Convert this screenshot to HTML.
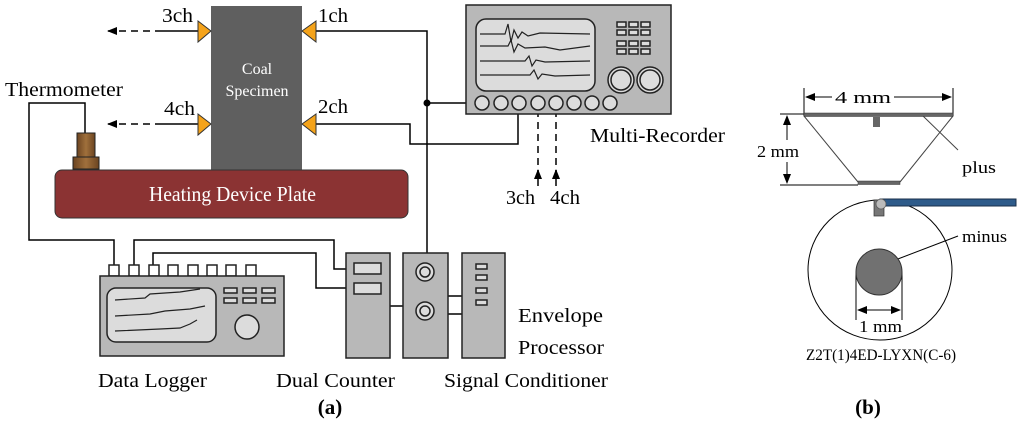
<!DOCTYPE html>
<html><head><meta charset="utf-8"><style>
html,body{margin:0;padding:0;background:#fff;}
svg{display:block;}
text{font-family:"Liberation Serif","Times New Roman",serif;}
</style></head><body>
<svg width="1024" height="423" viewBox="0 0 1024 423" xmlns="http://www.w3.org/2000/svg" font-family="Liberation Serif, serif">
<defs>
<marker id="ah" markerWidth="10" markerHeight="10" refX="9" refY="5" orient="auto" markerUnits="userSpaceOnUse"><path d="M0,1 L10,5 L0,9 Z" fill="#000"/></marker>
<marker id="ah2" markerWidth="10" markerHeight="10" refX="9" refY="5" orient="auto-start-reverse" markerUnits="userSpaceOnUse"><path d="M0,1 L10,5 L0,9 Z" fill="#000"/></marker>
<linearGradient id="br" x1="0" x2="1"><stop offset="0" stop-color="#6b4420"/><stop offset="0.5" stop-color="#a0703c"/><stop offset="1" stop-color="#6b4420"/></linearGradient>
</defs>
<g stroke="#000" stroke-width="1.5" fill="none">
<polyline points="316,31 427,31 427,253"/>
<polyline points="427,103 476,103"/>
<polyline points="316,124 410,124 410,144 518,144 518,110"/>
<polyline points="114,265 114,240 29,240 29,103 85,103 85,133"/>
<polyline points="134,265 134,240 334,240 334,269 346,269"/>
<polyline points="153,265 153,253 316,253 316,288 346,288"/>
<line x1="390" y1="306" x2="403" y2="306"/>
<line x1="448" y1="296" x2="462" y2="296"/>
<line x1="448" y1="314" x2="462" y2="314"/>
<line x1="198" y1="31" x2="162" y2="31"/>
<line x1="162" y1="31" x2="108" y2="31" stroke-dasharray="7,5" marker-end="url(#ah)"/>
<line x1="198" y1="124" x2="162" y2="124"/>
<line x1="162" y1="124" x2="108" y2="124" stroke-dasharray="7,5" marker-end="url(#ah)"/>
<line x1="538" y1="110" x2="538" y2="172" stroke-dasharray="7,5"/>
<line x1="556" y1="110" x2="556" y2="172" stroke-dasharray="7,5"/>
<line x1="538" y1="186" x2="538" y2="170" marker-end="url(#ah)"/>
<line x1="556" y1="186" x2="556" y2="170" marker-end="url(#ah)"/>
</g>
<circle cx="427" cy="103" r="3.5" fill="#000"/>
<rect x="211" y="6" width="91" height="164" fill="#5f5f5f"/>
<text x="257" y="74" fill="#fff" font-size="16" text-anchor="middle">Coal</text>
<text x="257" y="96" fill="#fff" font-size="16" text-anchor="middle">Specimen</text>
<g fill="#f5a31a" stroke="#333" stroke-width="1">
<path d="M198,21 L211,31 L198,42 Z"/><path d="M198,114 L211,124 L198,135 Z"/>
<path d="M316,21 L302,31 L316,42 Z"/><path d="M316,114 L302,124 L316,135 Z"/>
</g>
<rect x="55" y="170" width="353" height="48" rx="7" fill="#8b3333" stroke="#333" stroke-width="1"/>
<text x="149" y="201" fill="#fff" font-size="21" textLength="167" lengthAdjust="spacingAndGlyphs">Heating Device Plate</text>
<rect x="77" y="133" width="18" height="24" fill="url(#br)" stroke="#222"/>
<rect x="73" y="157" width="26" height="12" fill="url(#br)" stroke="#222"/>
<g font-size="20" fill="#000">
<text x="5" y="96" textLength="118" lengthAdjust="spacingAndGlyphs">Thermometer</text>
<text x="162" y="22" textLength="31" lengthAdjust="spacingAndGlyphs">3ch</text>
<text x="318" y="22" textLength="30" lengthAdjust="spacingAndGlyphs">1ch</text>
<text x="164" y="115" textLength="31" lengthAdjust="spacingAndGlyphs">4ch</text>
<text x="318" y="113" textLength="30" lengthAdjust="spacingAndGlyphs">2ch</text>
<text x="506" y="204" textLength="29" lengthAdjust="spacingAndGlyphs">3ch</text>
<text x="550" y="204" textLength="30" lengthAdjust="spacingAndGlyphs">4ch</text>
<text x="590" y="142" textLength="135" lengthAdjust="spacingAndGlyphs">Multi-Recorder</text>
<text x="518" y="322" textLength="85" lengthAdjust="spacingAndGlyphs">Envelope</text>
<text x="518" y="354" textLength="86" lengthAdjust="spacingAndGlyphs">Processor</text>
<text x="98" y="387" textLength="109" lengthAdjust="spacingAndGlyphs">Data Logger</text>
<text x="276" y="387" textLength="119" lengthAdjust="spacingAndGlyphs">Dual Counter</text>
<text x="444" y="387" textLength="164" lengthAdjust="spacingAndGlyphs">Signal Conditioner</text>
<text x="330" y="414" font-weight="bold" text-anchor="middle" font-size="21">(a)</text>
<text x="868" y="414" font-weight="bold" text-anchor="middle" font-size="21">(b)</text>
</g>
<g stroke="#222" stroke-width="1.5">
<rect x="466" y="5" width="205" height="109" fill="#b8b8b8"/>
<rect x="476" y="19" width="119" height="72" rx="10" fill="#dcdcdc"/>
<g fill="#dcdcdc">
<rect x="617" y="22" width="9" height="5"/><rect x="629" y="22" width="9" height="5"/><rect x="641" y="22" width="9" height="5"/>
<rect x="617" y="30" width="9" height="5"/><rect x="629" y="30" width="9" height="5"/><rect x="641" y="30" width="9" height="5"/>
<rect x="617" y="41" width="9" height="5"/><rect x="629" y="41" width="9" height="5"/><rect x="641" y="41" width="9" height="5"/>
<rect x="617" y="49" width="9" height="5"/><rect x="629" y="49" width="9" height="5"/><rect x="641" y="49" width="9" height="5"/>
<circle cx="621" cy="80" r="13"/><circle cx="621" cy="80" r="10"/>
<circle cx="650" cy="80" r="13"/><circle cx="650" cy="80" r="10"/>
<circle cx="482" cy="103" r="7"/><circle cx="501" cy="103" r="7"/><circle cx="519" cy="103" r="7"/><circle cx="538" cy="103" r="7"/><circle cx="556" cy="103" r="7"/><circle cx="574" cy="103" r="7"/><circle cx="592" cy="103" r="7"/><circle cx="610" cy="103" r="7"/>
</g>
<g fill="none" stroke-width="1.2">
<path d="M480,34 L505,34 L508,24 L511,42 L514,30 L518,38 L522,32 L528,36 L540,33 L590,34"/>
<path d="M480,46 L508,46 L511,40 L514,52 L518,44 L525,48 L545,47 L560,50 L590,46"/>
<path d="M480,61 L525,61 L529,56 L532,66 L536,60 L545,62 L590,61"/>
<path d="M480,75 L530,75 L534,70 L538,79 L542,74 L555,76 L590,75"/>
</g>
</g>
<g stroke="#222" stroke-width="1.5">
<g fill="#fff">
<rect x="109" y="265" width="10" height="11"/><rect x="129" y="265" width="10" height="11"/><rect x="149" y="265" width="10" height="11"/><rect x="168" y="265" width="10" height="11"/><rect x="188" y="265" width="10" height="11"/><rect x="207" y="265" width="10" height="11"/><rect x="226" y="265" width="10" height="11"/><rect x="246" y="265" width="10" height="11"/>
</g>
<rect x="100" y="276" width="184" height="80" fill="#b8b8b8"/>
<rect x="107" y="288" width="109" height="54" rx="9" fill="#dcdcdc"/>
<g fill="#dcdcdc">
<rect x="224" y="288" width="13" height="5"/><rect x="243" y="288" width="13" height="5"/><rect x="262" y="288" width="13" height="5"/>
<rect x="224" y="298" width="13" height="5"/><rect x="243" y="298" width="13" height="5"/><rect x="262" y="298" width="13" height="5"/>
<circle cx="247" cy="327" r="12"/>
</g>
<g fill="none" stroke-width="1.2">
<path d="M115,300 L145,298 L150,294 L180,292 L200,289"/>
<path d="M115,316 L150,314 L165,311 L190,309 L205,306"/>
<path d="M115,331 L160,329 L180,328 L190,324 L197,320"/>
</g>
<rect x="346" y="253" width="44" height="105" fill="#b8b8b8"/>
<rect x="354" y="263" width="27" height="11" fill="#dcdcdc"/><rect x="354" y="283" width="27" height="11" fill="#dcdcdc"/>
<rect x="403" y="253" width="45" height="105" fill="#b8b8b8"/>
<circle cx="425" cy="272" r="9" fill="#dcdcdc"/><circle cx="425" cy="272" r="5" fill="none"/>
<circle cx="425" cy="311" r="9" fill="#dcdcdc"/><circle cx="425" cy="311" r="5" fill="none"/>
<rect x="462" y="253" width="43" height="105" fill="#b8b8b8"/>
<g fill="#dcdcdc"><rect x="476" y="264" width="11" height="5"/><rect x="476" y="275" width="11" height="5"/><rect x="476" y="288" width="11" height="5"/><rect x="476" y="300" width="11" height="5"/></g>
</g>
<g stroke="#000" stroke-width="1" fill="none">
<line x1="804" y1="88" x2="804" y2="116"/><line x1="953" y1="88" x2="953" y2="116"/>
<line x1="806" y1="97" x2="951" y2="97" marker-start="url(#ah2)" marker-end="url(#ah2)"/>
<line x1="780" y1="114" x2="804" y2="114"/><line x1="780" y1="185" x2="858" y2="185"/>
<line x1="787" y1="116" x2="787" y2="183" marker-start="url(#ah2)" marker-end="url(#ah2)"/>
<line x1="804" y1="116" x2="858" y2="182" stroke="#444"/><line x1="953" y1="116" x2="900" y2="182" stroke="#444"/>
<line x1="923" y1="116" x2="958" y2="150" stroke="#444"/>
<ellipse cx="880" cy="270" rx="72" ry="70"/>
<line x1="890" y1="262" x2="958" y2="236"/>
<line x1="856" y1="272" x2="856" y2="320"/><line x1="902" y1="272" x2="902" y2="320"/>
<line x1="858" y1="310" x2="900" y2="310" marker-start="url(#ah2)" marker-end="url(#ah2)"/>
</g>
<rect x="832" y="88" width="62" height="16" fill="#fff"/>
<rect x="755" y="140" width="46" height="22" fill="#fff"/>
<rect x="804" y="113" width="149" height="3.5" fill="#666" stroke="#333" stroke-width="0.5"/>
<rect x="873" y="117" width="7" height="10" fill="#666"/>
<rect x="858" y="181" width="42" height="3.5" fill="#666" stroke="#333" stroke-width="0.5"/>
<rect x="880" y="199" width="136" height="7" fill="#2e5b8a" stroke="#1a2f4a" stroke-width="1"/>
<rect x="874" y="200" width="10" height="16" fill="#777" stroke="#333" stroke-width="0.7"/>
<circle cx="881" cy="204" r="5" fill="#bbb" stroke="#555" stroke-width="0.7"/>
<circle cx="879" cy="272" r="23" fill="#717171" stroke="#333" stroke-width="1"/>
<g font-size="17" fill="#000">
<text x="835" y="103" textLength="56" lengthAdjust="spacingAndGlyphs">4 mm</text>
<text x="757" y="157" textLength="42" lengthAdjust="spacingAndGlyphs">2 mm</text>
<text x="962" y="173" textLength="34" lengthAdjust="spacingAndGlyphs">plus</text>
<text x="962" y="242" textLength="45" lengthAdjust="spacingAndGlyphs">minus</text>
<text x="859" y="332" textLength="43" lengthAdjust="spacingAndGlyphs">1 mm</text>
<text x="806" y="360" font-size="16" textLength="150" lengthAdjust="spacingAndGlyphs">Z2T(1)4ED-LYXN(C-6)</text>
</g>
</svg>
</body></html>
